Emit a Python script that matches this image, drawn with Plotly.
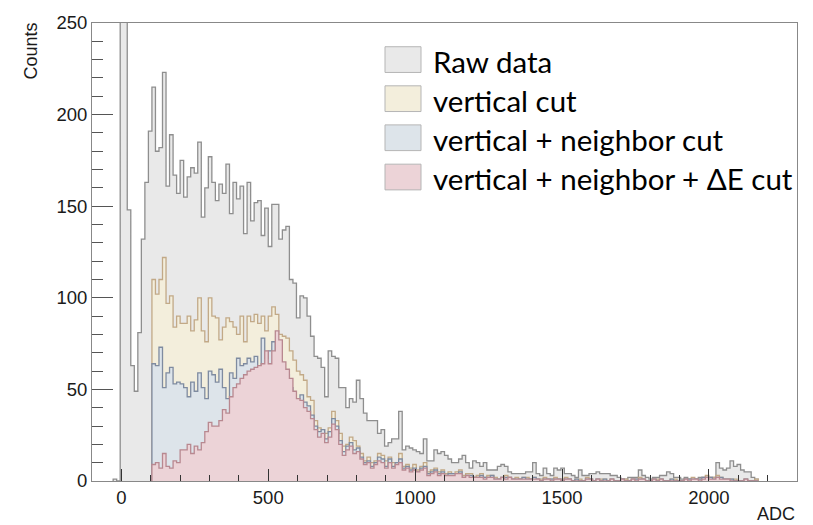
import numpy as np
import plotly.graph_objects as go

# ---------------- data (counts per 12-ADC bin) ----------------
BIN_W = 12
raw_start = -28          # left edge of first raw bin
raw_counts = [1, 0, 1000, 1000, 148, 63, 49, 81, 132, 163, 191, 215, 180, 182, 223, 161, 189,
              167, 157, 175, 155, 166, 171, 168, 185, 144, 160, 177, 163, 153, 162, 157, 173,
              146, 163, 154, 161, 135, 163, 142, 152, 153, 134, 149, 128, 151, 151, 132, 137,
              139, 110, 108, 89, 101, 100, 90, 79, 68, 67, 62, 46, 71, 68, 67, 51, 51, 40, 45,
              43, 55, 45, 37, 33, 33, 33, 26, 28, 19, 21, 23, 23, 38,
              17, 19, 18, 17, 16, 15, 23, 11, 11, 17, 15, 16, 14, 12, 10, 10, 12, 14, 10, 7,
              11, 10, 8, 10, 6, 6, 6, 8, 9, 8, 5, 4, 4, 4, 4, 5, 5, 10, 4, 3, 7, 4, 3, 7, 6,
              7, 4, 4, 3, 2, 6, 3, 3, 4, 4, 5, 4, 4, 4, 3, 3, 2, 1, 1, 2, 2, 2, 6, 3, 2, 1, 2,
              2, 3, 3, 5, 4, 2, 2, 1, 2, 1, 0, 1, 2, 2, 2, 2, 2, 10, 7, 6, 7, 11, 8, 9, 6, 5,
              5, 2, 1]

cut_start = 104          # left edge of first bin of the cut histograms
vertical_counts = [110, 102, 110, 122, 97, 101, 84, 90, 86, 86,
                   90, 82, 88, 100, 82, 76, 100, 90, 89, 77,
                   84, 89, 87, 84, 80, 90, 76, 90, 87, 91,
                   86, 90, 82, 90, 95, 91, 80, 79, 78, 71,
                   66, 60,
                   58, 55, 46, 44, 33, 29, 28, 26, 29, 38,
                   33, 26, 19, 20, 24, 22, 19, 15, 11, 13,
                   10, 11, 15, 14, 11, 13, 10, 10, 15,
                   8, 9, 7, 9, 6, 8, 10, 5, 6, 7,
                   5, 6, 4, 5, 4, 5, 6, 3, 4, 4,
                   2, 3, 4, 2, 3, 3, 2, 1, 2, 3,
                   2, 1, 2, 1, 2, 2, 1, 2, 1, 1,
                   2, 1, 1, 2, 1, 1, 2,
                   1, 0, 1, 1, 0, 2, 1, 0, 1, 1,
                   1, 0, 1, 0, 0, 1, 1, 0, 1, 1,
                   2, 1, 0, 0, 1, 1, 1, 0, 0, 1,
                   1, 0, 0, 1, 1, 2, 1, 1, 2, 3,
                   2, 2, 3, 2, 1, 1, 1, 1, 0, 0,
                   1, 0, 0, 1]

neighbor_counts = [64, 63, 73, 51, 59, 62, 53, 54, 53, 51,
                   46, 54, 49, 59, 51, 45, 60, 58, 54, 61,
                   51, 45, 59, 56, 67, 63, 64, 67, 65, 68,
                   63, 78, 67, 71, 76, 71, 62, 56, 58, 51,
                   40, 45,
                   47, 43, 41, 36, 30, 27, 28, 23, 27, 34,
                   30, 22, 16, 19, 21, 17, 18, 13, 10, 11,
                   8, 10, 13, 12, 8, 12, 8, 10, 12,
                   7, 8, 6, 7, 5, 7, 8, 4, 5, 6,
                   4, 5, 3, 4, 4, 4, 5, 2, 3, 3,
                   2, 2, 3, 2, 2, 3, 1, 1, 2, 2,
                   2, 1, 1, 1, 2, 1, 1, 2, 1, 0,
                   1, 1, 1, 1, 1, 0, 1,
                   1, 0, 1, 0, 0, 1, 1, 0, 1, 0,
                   1, 0, 1, 0, 0, 1, 0, 0, 1, 1,
                   1, 1, 0, 0, 1, 0, 1, 0, 0, 1,
                   0, 0, 0, 1, 1, 1, 1, 1, 2, 2,
                   2, 1, 2, 2, 1, 1, 1, 0, 0, 0,
                   1, 0, 0, 0]

deltaE_counts = [9, 10, 7, 15, 8, 7, 11, 10, 17, 17,
                 20, 15, 19, 17, 21, 27, 32, 30, 30, 33,
                 39, 37, 46, 51, 53, 56, 58, 60, 61, 62,
                 63, 64, 71, 64, 71, 82, 77, 65, 61, 56,
                 49, 45,
                 44, 40, 38, 34, 28, 24, 26, 21, 24, 31,
                 28, 20, 14, 17, 19, 15, 16, 12, 9, 10,
                 7, 9, 11, 10, 7, 10, 7, 9, 10,
                 6, 7, 5, 6, 5, 6, 7, 3, 4, 5,
                 3, 4, 3, 3, 3, 4, 4, 2, 3, 2,
                 2, 2, 2, 1, 2, 2, 1, 1, 2, 1,
                 2, 1, 1, 1, 1, 1, 1, 1, 1, 0,
                 1, 1, 0, 1, 1, 0, 1,
                 1, 0, 0, 0, 0, 1, 1, 0, 1, 0,
                 0, 0, 1, 0, 0, 1, 0, 0, 1, 0,
                 1, 1, 0, 0, 1, 0, 1, 0, 0, 0,
                 0, 0, 0, 1, 0, 1, 1, 0, 1, 2,
                 1, 1, 2, 1, 1, 1, 0, 0, 0, 0,
                 1, 0, 0, 0]

series_names = ["Raw data", "vertical cut", "vertical + neighbor cut", "vertical + neighbor + ΔE cut"]
fill_colors = ["#e9e9e9", "#f3eedc", "#dde4ea", "#ecd3d7"]
line_colors = ["#8e8e8e", "#c2a987", "#7f8ba0", "#b88890"]

x_ticks = [0, 500, 1000, 1500, 2000]
y_ticks = [0, 50, 100, 150, 200, 250]


def step_xy(start, counts):
    edges = start + BIN_W * np.arange(len(counts) + 1)
    x = np.concatenate([[edges[0]], edges])
    y = np.concatenate([[0], counts, [0]])
    return x, y


fig = go.Figure()
datasets = [(raw_start, raw_counts), (cut_start, vertical_counts),
            (cut_start, neighbor_counts), (cut_start, deltaE_counts)]
for (start, counts), name, fc, lc in zip(datasets, series_names, fill_colors, line_colors):
    x, y = step_xy(start, counts)
    fig.add_trace(go.Scatter(x=x, y=y, mode="lines", line=dict(shape="hv", color=lc, width=1.3),
                             fill="tozeroy", fillcolor=fc, name=name, showlegend=False,
                             hoverinfo="skip"))

W, H = 813, 525
L, R, T, B = 92, 16, 18, 44
PW, PH = W - L - R, H - T - B


def px(xp):
    return (xp - L) / PW


def py(yp):
    return (H - B - yp) / PH


axis_font = dict(family="Liberation Sans, Arial, sans-serif", size=18.5, color="#1a1a1a")
title_font = dict(family="Liberation Sans, Arial, sans-serif", size=18, color="#1a1a1a")

fig.update_layout(
    width=W, height=H, margin=dict(l=L, r=R, t=T, b=B),
    paper_bgcolor="white", plot_bgcolor="white",
    xaxis=dict(range=[-100, 2300], tickvals=x_ticks, ticks="inside", ticklen=12, tickwidth=1,
               tickcolor="#333", showgrid=False, zeroline=False, showline=True, linecolor="#888",
               linewidth=1, mirror=True, tickfont=axis_font,
               minor=dict(ticks="inside", ticklen=6, dtick=100, tick0=0, tickcolor="#333", showgrid=False)),
    yaxis=dict(range=[0, 250], tickvals=y_ticks, ticks="inside", ticklen=21, tickwidth=1,
               tickcolor="#555", showgrid=False, zeroline=False, showline=True, linecolor="#888",
               linewidth=1, mirror=True, tickfont=axis_font,
               minor=dict(ticks="inside", ticklen=11, dtick=10, tick0=0, tickcolor="#555", showgrid=False)),
)

fig.add_annotation(text="Counts", xref="paper", yref="paper", x=px(31), y=py(16), textangle=-90,
                   xanchor="center", yanchor="top", showarrow=False, font=title_font)
fig.add_annotation(text="ADC", xref="paper", yref="paper", x=1.0, y=py(514), xanchor="right",
                   yanchor="middle", showarrow=False, font=title_font)

# manual legend
row_centers = [55, 94.5, 134, 173.7]
for name, fc, yc in zip(series_names, fill_colors, row_centers):
    fig.add_shape(type="rect", xref="paper", yref="paper", x0=px(385), x1=px(421),
                  y0=py(yc + 13), y1=py(yc - 13), fillcolor=fc, line=dict(color="#b5b5b5", width=1))
    fig.add_annotation(text=name, xref="paper", yref="paper", x=px(431), y=py(yc + 2),
                       xanchor="left", yanchor="middle", showarrow=False,
                       font=dict(family="Lato, sans-serif", size=29.5, color="#000"))

fig.write_html("out.html")
